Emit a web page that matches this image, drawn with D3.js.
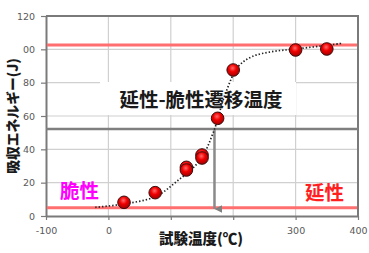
<!DOCTYPE html>
<html><head><meta charset="utf-8">
<script src="https://cdn.jsdelivr.net/npm/d3@7"></script>
<style>html,body{margin:0;padding:0;background:#fff;overflow:hidden}</style>
</head><body>
<svg id="c" width="369" height="253"></svg>
<script>
// ---- data ----
const temps  = [25, 75, 125, 125, 150, 150, 175, 200, 300, 350];
const energy = [8.2, 14, 29.2, 27.6, 36.6, 34.8, 58.6, 87.6, 99.6, 100.2];
const curveTemps  = [-21, 25, 75, 109, 147, 168, 188, 208, 230, 262, 300, 373];
const curveEnergy = [5.2, 7.2, 11.6, 20.6, 33.6, 50, 74, 89.6, 95.6, 98.6, 100.2, 103.5];
const upperShelf = [102.6];
const lowerShelf = [5];
const transitionEnergy = [52.2];
const transitionTemp = [170];
const xTicks = [-100, 0, 100, 200, 300, 400];
const xTickLabels = ["-100", "0", "", "", "300", "400"];
const yTicks = [0, 20, 40, 60, 80, 100, 120];
const yTickLabels = ["0", "20", "40", "60", "80", "00", "120"];
const title = "延性-脆性遷移温度";
const xTitle = "試験温度(℃)";
const yTitle = "吸収エネルギー(J)";

const svg = d3.select("#c");
const L = 46, R = 358, T = 16, B = 216;
const x = d3.scaleLinear().domain([-100, 400]).range([L, R]);
const y = d3.scaleLinear().domain([0, 120]).range([B, T]);
const cjk = "'Noto Sans CJK JP','Noto Sans CJK SC',sans-serif";

const defs = svg.append("defs");
const g = defs.append("radialGradient").attr("id", "ball").attr("cx", "45%").attr("cy", "35%").attr("r", "65%");
g.append("stop").attr("offset", "0%").attr("stop-color", "#ff6a6a");
g.append("stop").attr("offset", "45%").attr("stop-color", "#f00000");
g.append("stop").attr("offset", "100%").attr("stop-color", "#a00000");
const m = defs.append("marker").attr("id", "arr").attr("viewBox", "0 0 10 10").attr("refX", 5).attr("refY", 10)
  .attr("markerWidth", 3.2).attr("markerHeight", 3.2).attr("orient", "auto-start-reverse").attr("markerUnits", "strokeWidth");
m.append("path").attr("d", "M0,0L10,0L5,10Z").attr("fill", "#808080");

// gridlines
svg.append("g").selectAll("line").data(xTicks.slice(1, -1)).join("line")
  .attr("x1", d => x(d)).attr("x2", d => x(d)).attr("y1", T).attr("y2", B)
  .attr("stroke", "#d0d0d0").attr("stroke-width", 1.2);
svg.append("g").selectAll("line").data(yTicks.slice(1, -1)).join("line")
  .attr("x1", L).attr("x2", R).attr("y1", d => y(d)).attr("y2", d => y(d))
  .attr("stroke", "#d0d0d0").attr("stroke-width", 1.2);

// axes
const xAxis = svg.append("g").attr("transform", `translate(0,${B})`)
  .call(d3.axisBottom(x).tickValues(xTicks).tickFormat((d, i) => xTickLabels[i]).tickSize(4).tickSizeOuter(0));
const yAxis = svg.append("g").attr("transform", `translate(${L},0)`)
  .call(d3.axisLeft(y).tickValues(yTicks).tickFormat((d, i) => yTickLabels[i]).tickSize(5).tickSizeOuter(0));
[xAxis, yAxis].forEach(a => {
  a.select(".domain").attr("stroke", "#7a7a7a").attr("stroke-width", 2);
  a.selectAll(".tick line").attr("stroke", "#7a7a7a").attr("stroke-width", 1.2);
  a.selectAll("text").attr("fill", "#595959").style("font-family", "'DejaVu Sans',sans-serif").style("font-size", "9.5px");
});
xAxis.selectAll("text").attr("dy", "1.2em");
yAxis.selectAll("text").attr("dx", "-0.3em");
// top/right border
svg.append("path").attr("d", `M${L},${T}H${R}V${B}`).attr("fill", "none").attr("stroke", "#7a7a7a").attr("stroke-width", 2);

// title box
svg.append("rect").attr("x", 100).attr("y", 82).attr("width", 196).attr("height", 33).attr("fill", "#fff");

// shelf lines
svg.append("g").selectAll("line").data(upperShelf.concat(lowerShelf)).join("line")
  .attr("x1", L + 1).attr("x2", R - 1).attr("y1", d => y(d)).attr("y2", d => y(d))
  .attr("stroke", "#ff6f6f").attr("stroke-width", 3);

// transition lines
svg.append("line").attr("x1", L).attr("x2", R).attr("y1", y(transitionEnergy[0])).attr("y2", y(transitionEnergy[0]))
  .attr("stroke", "#7f7f7f").attr("stroke-width", 2.5);
svg.append("line").attr("x1", x(transitionTemp[0])).attr("x2", x(transitionTemp[0]))
  .attr("y1", y(transitionEnergy[0])).attr("y2", B - 7)
  .attr("stroke", "#8a8a8a").attr("stroke-width", 2.5).attr("marker-end", "url(#arr)");

// dotted trend curve
const pts = curveTemps.map((t, i) => [x(t), y(curveEnergy[i])]);
svg.append("path").attr("d", d3.line().curve(d3.curveCatmullRom.alpha(0.5))(pts))
  .attr("fill", "none").attr("stroke", "#222").attr("stroke-width", 1.7).attr("stroke-dasharray", "1.4,2");

// points
svg.append("g").selectAll("circle").data(temps.map((t, i) => [t, energy[i]])).join("circle")
  .attr("cx", d => x(d[0])).attr("cy", d => y(d[1])).attr("r", 6.3)
  .attr("fill", "url(#ball)").attr("stroke", "#3a1010").attr("stroke-width", 1);

// texts
svg.append("text").attr("x", 201).attr("y", 107).attr("text-anchor", "middle")
  .style("font-family", cjk).style("font-weight", "bold").style("font-size", "19.5px").attr("fill", "#1a1a1a").text(title);
svg.append("text").attr("x", 60).attr("y", 198)
  .style("font-family", cjk).style("font-weight", "bold").style("font-size", "19.5px").attr("fill", "#ff00ff").text("脆性");
svg.append("text").attr("x", 305).attr("y", 200)
  .style("font-family", cjk).style("font-weight", "bold").style("font-size", "19.5px").attr("fill", "#ff1f1f").text("延性");
svg.append("text").attr("x", 201).attr("y", 244).attr("text-anchor", "middle")
  .style("font-family", cjk).style("font-weight", "900").style("font-size", "14.5px").attr("fill", "#1a1a1a").text(xTitle);
svg.append("text").attr("transform", "translate(18,116) rotate(-90)").attr("text-anchor", "middle")
  .style("font-family", cjk).style("font-weight", "900").style("font-size", "13.8px").attr("fill", "#1a1a1a").text(yTitle);
</script>
</body></html>
